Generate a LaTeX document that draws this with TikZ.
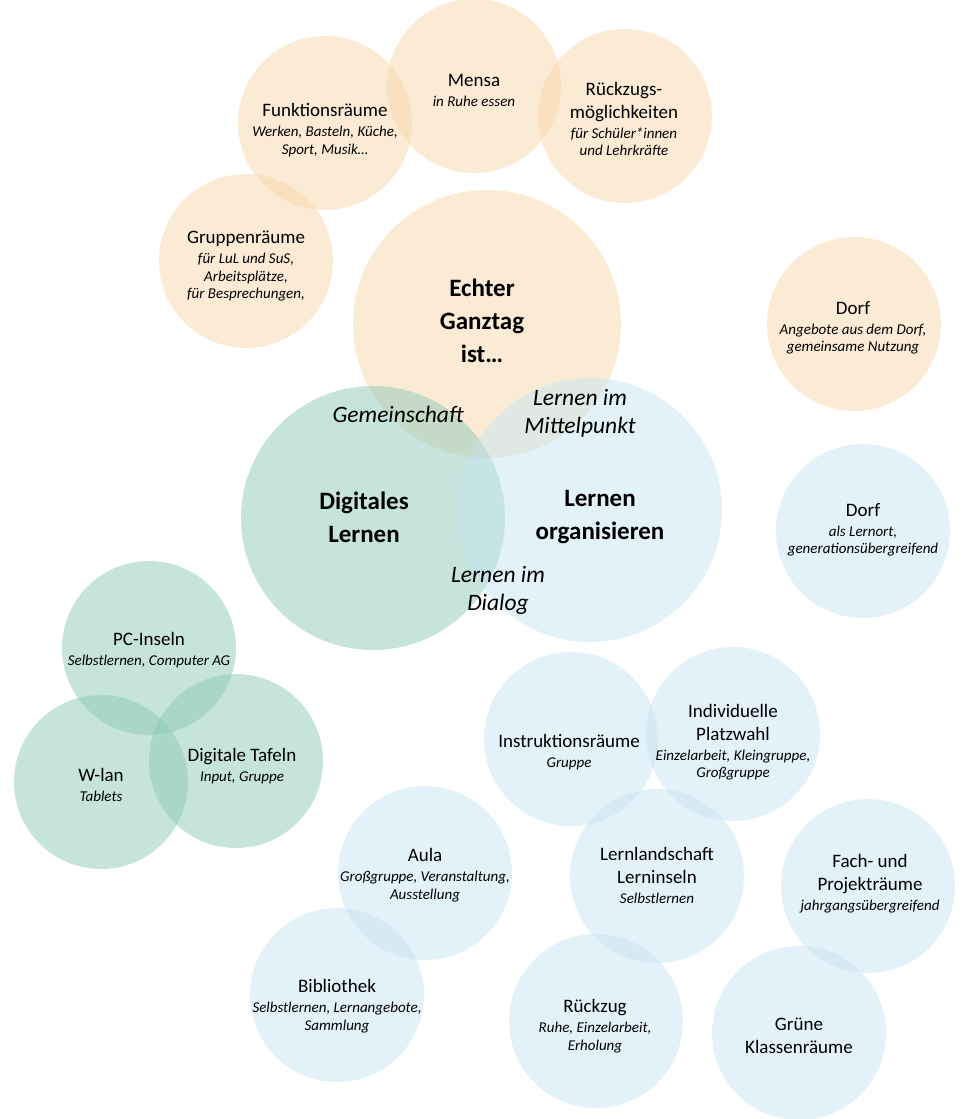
\documentclass[tikz,border=0pt]{standalone}
\usepackage{fontspec}
\setmainfont{Carlito}
\usepackage{tikz}
\usetikzlibrary{positioning}
\definecolor{ganztag}{RGB}{247,215,171}
\definecolor{organ}{RGB}{199,227,241}
\definecolor{digital}{RGB}{141,201,183}
\newcommand{\kl}[1]{{\fontsize{15}{17.5}\selectfont\itshape #1}}
\newcommand{\klnl}{\\[-5.5pt]}
\newcommand{\hdnl}{\\[-3pt]}

\begin{document}
\begin{tikzpicture}[x=1pt, y=-1pt,
                    bubble/.style={circle, fill=#1, fill opacity=.5, minimum size=174pt, inner sep=0pt},
                    big/.style={bubble=#1, minimum size=264pt},
                    room/.style={align=center, font=\fontsize{19}{23}\selectfont},
                    core/.style={align=center, font=\fontsize{25}{33}\selectfont\bfseries},
                    link/.style={align=center, font=\fontsize{23.5}{28}\selectfont\itshape}
                    ]

\useasboundingbox (0,0) rectangle (963,1119);

%% Kreise
\node[bubble=ganztag] (mensa)  at (474,86)  {};
\node[bubble=ganztag] (funk)   at (325,123) {};
\node[bubble=ganztag] (rueck)  at (625,116) {};
\node[bubble=ganztag] (gruppe) at (246,261) {};
\node[big=ganztag, minimum size=268pt] (echt) at (487,324) {};
\node[bubble=ganztag] (dorfA)  at (854,324) {};
\node[big=digital] (digi) at (373,518) {};
\node[big=organ]   (lern) at (590,510) {};
\node[bubble=organ] (dorfB) at (863,531) {};

\node[bubble=digital] (pc)    at (149,648) {};
\node[bubble=digital] (wlan)  at (101,782) {};
\node[bubble=digital] (tafel) at (236,761) {};

\node[bubble=organ] (instr) at (571,739)  {};
\node[bubble=organ] (platz) at (733,734)  {};
\node[bubble=organ] (aula)  at (425,873)  {};
\node[bubble=organ] (land)  at (657,876)  {};
\node[bubble=organ] (fach)  at (868,886)  {};
\node[bubble=organ] (bib)   at (337,995)  {};
\node[bubble=organ] (rzug)  at (596,1021) {};
\node[bubble=organ] (gruen) at (799,1033) {};

%% Texte
\node[room] (mensaT)  at (474,90)  {Mensa\hdnl\kl{in Ruhe essen}};
\node[room] (funkT)   at (325,130) {Funktionsräume\hdnl\kl{Werken, Basteln, Küche,}\klnl\kl{Sport, Musik…}};
\node[room] (rueckT)  at (624,119) {Rückzugs-\\möglichkeiten\hdnl\kl{für Schüler*innen}\klnl\kl{und Lehrkräfte}};
\node[room] (gruppeT) at (246,266) {Gruppenräume\hdnl\kl{für LuL und SuS,}\klnl\kl{Arbeitsplätze,}\klnl\kl{für Besprechungen,}};
\node[core] (echtT)   at (482,321) {Echter\\Ganztag\\ist…};
\node[room] (dorfAT)  at (853,328) {Dorf\hdnl\kl{Angebote aus dem Dorf,}\klnl\kl{gemeinsame Nutzung}};

\node[link] (gemT)    at (398,414) {Gemeinschaft};
\node[link] (mittelT) at (580,413) {Lernen im\\Mittelpunkt};
\node[core] (digiT)   at (364,517) {Digitales\\Lernen};
\node[core] (lernT)   at (600,517) {Lernen\\organisieren};
\node[link] (dialogT) at (498,590) {Lernen im\\Dialog};
\node[room] (dorfBT)  at (863,530) {Dorf\hdnl\kl{als Lernort,}\klnl\kl{generationsübergreifend}};

\node[room] (pcT)    at (149,650) {PC-Inseln\hdnl\kl{Selbstlernen, Computer AG}};
\node[room] (wlanT)  at (101,785) {W-lan\hdnl\kl{Tablets}};
\node[room] (tafelT) at (242,766) {Digitale Tafeln\hdnl\kl{Input, Gruppe}};

\node[room] (instrT) at (569,752)  {Instruktionsräume\hdnl\kl{Gruppe}};
\node[room] (platzT) at (733,742)  {Individuelle\\Platzwahl\hdnl\kl{Einzelarbeit, Kleingruppe,}\klnl\kl{Großgruppe}};
\node[room] (aulaT)  at (425,875)  {Aula\hdnl\kl{Großgruppe, Veranstaltung,}\klnl\kl{Ausstellung}};
\node[room] (landT)  at (657,875)  {Lernlandschaft\\Lerninseln\hdnl\kl{Selbstlernen}};
\node[room] (fachT)  at (870,884)  {Fach- und\\Projekträume\hdnl\kl{jahrgangsübergreifend}};
\node[room] (bibT)   at (337,1006) {Bibliothek\hdnl\kl{Selbstlernen, Lernangebote,}\klnl\kl{Sammlung}};
\node[room] (rzugT)  at (595,1026) {Rückzug\hdnl\kl{Ruhe, Einzelarbeit,}\klnl\kl{Erholung}};
\node[room] (gruenT) at (799,1036) {Grüne\\Klassenräume};
\end{tikzpicture}
\end{document}
